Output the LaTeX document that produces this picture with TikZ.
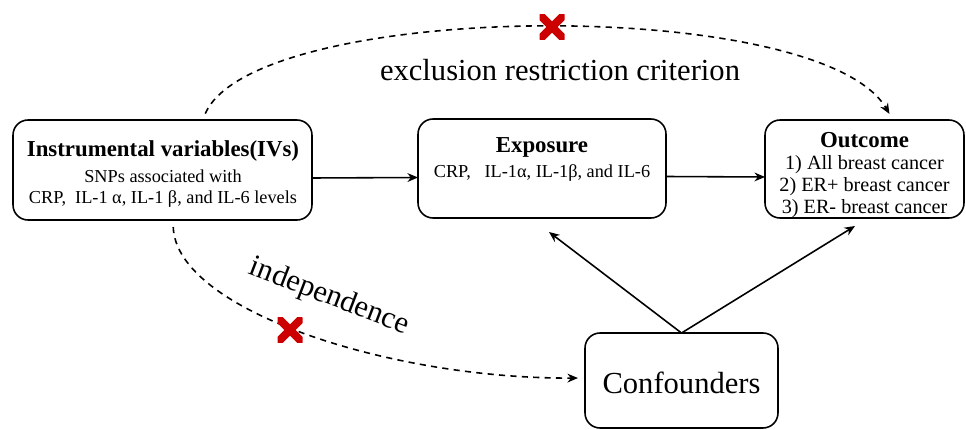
\documentclass[tikz,border=0pt]{standalone}
\usepackage{fontspec}
\setmainfont{Liberation Serif}
\usetikzlibrary{arrows.meta}
\definecolor{crossred}{RGB}{204,0,0}
\newcommand\boxtitle{\bfseries\fontsize{13}{15}\selectfont}
\newcommand\boxsub{\fontsize{10.4}{12.2}\selectfont}
\newcommand\biglabel{\fontsize{17.4}{20}\selectfont}
\tikzset{
  box/.style={draw, rounded corners=0.3cm, line width=0.9pt, inner sep=0pt, outer sep=0pt},
  link/.style={line width=0.9pt, -{Stealth[length=6pt,width=5pt]}},
  dlink/.style={link, dash pattern=on 3.5pt off 3pt, shorten <=4pt, shorten >=4pt},
  redx/.style={minimum size=0.5cm, inner sep=0pt, path picture={
    \draw[crossred, line width=4.6pt]
      (path picture bounding box.north west) -- (path picture bounding box.south east)
      (path picture bounding box.north east) -- (path picture bounding box.south west);}},
}
\begin{document}
\begin{tikzpicture}[x=0.02cm, y=-0.02cm]
  \useasboundingbox (0,0) rectangle (966,429);
  % boxes
  \node[box, minimum width=5.98cm, minimum height=2cm] (iv) at (162.5,170) {};
  \node[box, minimum width=4.96cm, minimum height=1.98cm] (expo) at (542,168.5) {};
  \node[box, minimum width=3.98cm, minimum height=1.96cm] (out) at (864.5,169) {};
  \node[box, minimum width=3.86cm, minimum height=1.9cm] (conf) at (681.5,380.5) {};
  % box texts
  \node[align=center, font=\boxsub] (ivtext) at (163,174)
    {{\boxtitle Instrumental variables(IVs)}\\[2.5pt] SNPs associated with\\ CRP,\ \ IL-1 α, IL-1 β, and IL-6 levels};
  \node[align=center, font=\boxsub] (expotext) at (542,159)
    {{\boxtitle Exposure}\\[2pt] CRP,\ \ \ IL-1α, IL-1β, and IL-6};
  \node[align=center, font=\fontsize{11.5}{12.6}\selectfont] (outtext) at (864.5,175)
    {{\boxtitle Outcome}\\ 1) All breast cancer\\ 2) ER+ breast cancer\\ 3) ER- breast cancer};
  \node[font=\biglabel] (conftext) at (681.5,383) {Confounders};
  % solid arrows
  \draw[link] ([yshift=-0.16cm]iv.east) -- ([yshift=-0.18cm]expo.west);
  \draw[link] ([yshift=-0.16cm]expo.east) -- ([yshift=-0.16cm]out.west);
  \coordinate (expoin) at (549,232);
  \coordinate (outin) at (855,226);
  \draw[link] (conf.north) -- (expoin);
  \draw[link] (conf.north) -- (outin);
  % dashed paths
  \draw[dlink] ([xshift=0.8cm]iv.north) .. controls (255,0) and (820,-5) .. ([xshift=0.57cm]out.north);
  \draw[dlink] ([xshift=0.21cm]iv.south) .. controls (176,310) and (390,379) .. ([yshift=0.05cm]conf.west);
  \node[font=\biglabel] (excl) at (560,70) {exclusion restriction criterion};
  \node[font=\biglabel, rotate=-21] (indep) at (329,297) {independence};
  \node[redx] (xtop) at (552,27) {};
  \node[redx] (xbot) at (290,330) {};
\end{tikzpicture}
\end{document}
